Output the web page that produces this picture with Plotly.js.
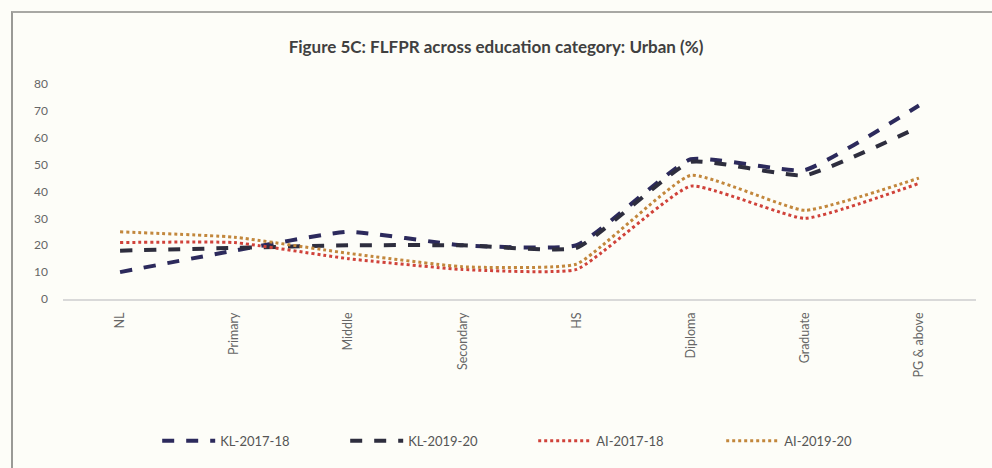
<!DOCTYPE html>
<html>
<head>
<meta charset="utf-8">
<script src="https://cdn.plot.ly/plotly-3.0.1.min.js"></script>
<style>
  html, body { margin: 0; padding: 0; background: #fdfdf8; }
  #wrap { position: relative; width: 992px; height: 468px; overflow: hidden; background: #fdfdf8; }
  #frame { position: absolute; left: 11px; top: 11px; width: 1000px; height: 500px;
           border-left: 2px solid #9a9a96; border-top: 2px solid #a8a8a4; pointer-events: none; }
  #chart { position: absolute; left: 0; top: 0; width: 992px; height: 468px; }
</style>
</head>
<body>
<div id="wrap">
  <div id="chart"></div>
  <div id="frame"></div>
</div>
<script>
const categories = ["NL", "Primary", "Middle", "Secondary", "HS", "Diploma", "Graduate", "PG & above"];
const kl201718 = [10, 18, 25, 20, 20, 52, 48, 72];
const kl201920 = [18, 19, 20, 20, 19, 51, 46, 64];
const ai201718 = [21, 21, 15, 11, 11, 42, 30, 43];
const ai201920 = [25, 23, 17, 12, 13, 46, 33, 45];
const seriesNames = ["KL-2017-18", "KL-2019-20", "AI-2017-18", "AI-2019-20"];
const yTicks = [0, 10, 20, 30, 40, 50, 60, 70, 80];

const font = "Lato, 'Open Sans', 'Liberation Sans', sans-serif";

function tr(name, y, color, dash, width) {
  return {
    type: "scatter", mode: "lines", name: name, x: categories, y: y,
    line: { color: color, dash: dash, width: width, shape: "spline", smoothing: 0.4 },
    hoverinfo: "skip"
  };
}

const data = [
  tr(seriesNames[0], kl201718, "#2c2a5c", "dash", 4),
  tr(seriesNames[1], kl201920, "#2e2e3e", "dash", 4),
  tr(seriesNames[2], ai201718, "#d0423a", "dot", 3),
  tr(seriesNames[3], ai201920, "#c2873c", "dot", 3)
];

const layout = {
  width: 992, height: 468,
  paper_bgcolor: "rgba(0,0,0,0)", plot_bgcolor: "rgba(0,0,0,0)",
  margin: { l: 63, r: 16, t: 84, b: 167 },
  showlegend: true,
  title: {
    text: "<b>Figure 5C: FLFPR across education category: Urban (%)</b>",
    font: { family: font, size: 17, color: "#404040" },
    x: 0.5, xanchor: "center", xref: "container", y: 1 - 47 / 468, yref: "container", yanchor: "middle",
    automargin: false
  },
  xaxis: {
    type: "category",
    range: [-0.5, 7.5],
    automargin: false,
    tickangle: -90,
    tickfont: { family: font, size: 12.5, color: "#666666" },
    showgrid: false, zeroline: false,
    showline: true, linecolor: "#d9d9d9", linewidth: 1.5,
    ticks: "", ticklabelstandoff: 7
  },
  yaxis: {
    range: [0, 80],
    automargin: false,
    tickvals: yTicks,
    ticktext: yTicks.map(String),
    tickfont: { family: font, size: 12, color: "#666666" },
    showgrid: false, zeroline: false, showline: false,
    ticks: "", ticklabelstandoff: 14, fixedrange: true
  },
  legend: {
    orientation: "h", x: 0.515, xanchor: "center", y: -0.66, yanchor: "middle",
    font: { family: font, size: 13, color: "#555555" },
    itemwidth: 53, entrywidth: 120, entrywidthmode: "pixels",
    tracegroupgap: 0, bgcolor: "rgba(0,0,0,0)"
  }
};

Plotly.newPlot("chart", data, layout, { displayModeBar: false, staticPlot: true });
</script>
</body>
</html>
